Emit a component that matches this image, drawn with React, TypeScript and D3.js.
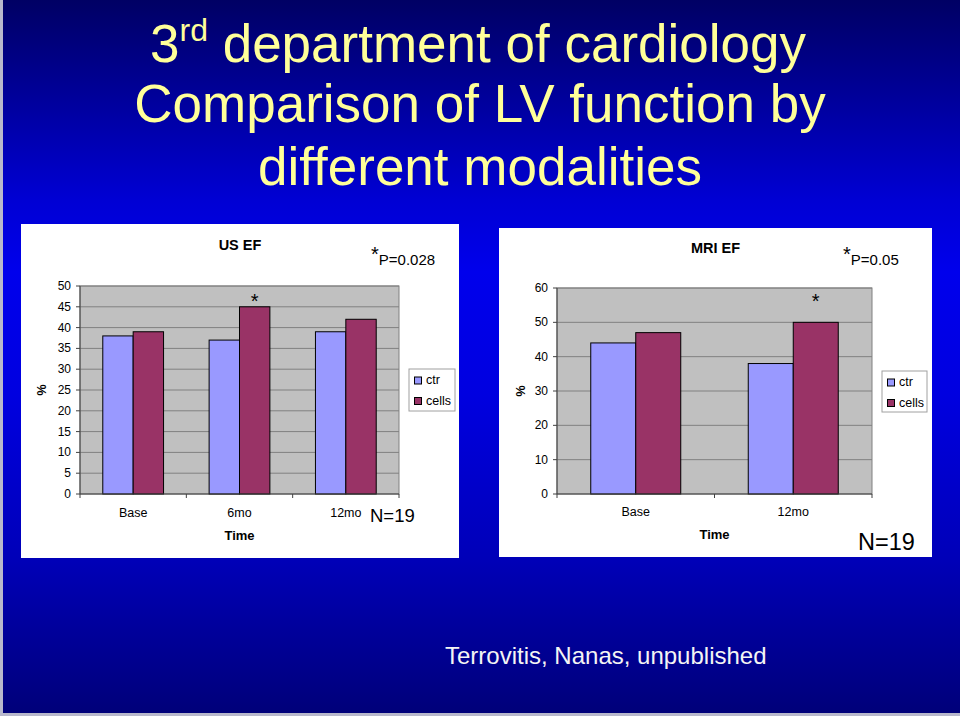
import React from "react";
import * as d3 from "d3";

const seriesNames = ["ctr", "cells"];
const usCategories = ["Base", "6mo", "12mo"];
const usCtr = [38, 37, 39];
const usCells = [39, 45, 42];
const usTicks = [0, 5, 10, 15, 20, 25, 30, 35, 40, 45, 50];
const usStarred = ["6mo"];
const mriCategories = ["Base", "12mo"];
const mriCtr = [44, 38];
const mriCells = [47, 50];
const mriTicks = [0, 10, 20, 30, 40, 50, 60];
const mriStarred = ["12mo"];

const FONT = "'Liberation Sans', Arial, sans-serif";
const colors = ["#9999ff", "#993366"];

type PanelProps = {
  box: [number, number, number, number];
  plot: [number, number, number, number];
  title: string;
  titleY: number;
  pText: string;
  pX: number;
  categories: string[];
  ctr: number[];
  cells: number[];
  ticks: number[];
  starred: string[];
  legend: [number, number, number, number];
  catY: number;
  timeY: number;
  nX: number;
  nY: number;
  nSize: number;
  pctX: number;
};

function Panel(p: PanelProps) {
  const [bx, by, bw, bh] = p.box;
  const [px0, py0, px1, py1] = p.plot;
  const maxV = p.ticks[p.ticks.length - 1];
  const y = d3.scaleLinear().domain([0, maxV]).range([py1, py0]);
  const x = d3.scaleBand<string>().domain(p.categories).range([px0, px1]).padding(0);
  const xs = d3
    .scaleBand<string>()
    .domain(seriesNames)
    .range([0, x.bandwidth()])
    .paddingInner(0)
    .paddingOuter(0.75);
  const values = [p.ctr, p.cells];
  const [lx, ly, lw, lh] = p.legend;
  const cx = (px0 + px1) / 2;
  const cy = (py0 + py1) / 2;
  const bounds = [px0, ...p.categories.map((c) => (x(c) as number) + x.bandwidth())];
  return (
    <g>
      <rect x={bx} y={by} width={bw} height={bh} fill="#ffffff" />
      <text x={bx + bw / 2} y={p.titleY} textAnchor="middle" fontFamily={FONT} fontWeight="bold" fontSize={14.5} fill="#000">
        {p.title}
      </text>
      <text x={p.pX} y={265} fontFamily={FONT} fontSize={15} fill="#000">
        <tspan fontSize={20} dy={-4}>*</tspan>
        <tspan dy={4}>{p.pText}</tspan>
      </text>
      <rect x={px0} y={py0} width={px1 - px0} height={py1 - py0} fill="#c0c0c0" stroke="#808080" strokeWidth={1} />
      {p.ticks.slice(1).map((t) => (
        <line key={"g" + t} x1={px0} x2={px1} y1={y(t)} y2={y(t)} stroke="#808080" strokeWidth={1} />
      ))}
      {p.categories.map((c, ci) =>
        seriesNames.map((s, si) => {
          const v = values[si][ci];
          const x0 = (x(c) as number) + (xs(s) as number);
          return (
            <rect
              key={c + s}
              x={x0}
              y={y(v)}
              width={xs.bandwidth()}
              height={py1 - y(v)}
              fill={colors[si]}
              stroke="#000"
              strokeWidth={1}
            />
          );
        })
      )}
      {p.starred.map((c) => {
        const xc = (x(c) as number) + (xs("cells") as number) + xs.bandwidth() / 2;
        return (
          <text key={"t" + c} x={xc} y={308} textAnchor="middle" fontFamily={FONT} fontSize={20} fill="#000">
            *
          </text>
        );
      })}
      <line x1={px0} x2={px0} y1={py0} y2={py1} stroke="#404040" strokeWidth={1} />
      <line x1={px0} x2={px1} y1={py1} y2={py1} stroke="#404040" strokeWidth={1} />
      {p.ticks.map((t) => (
        <g key={"t" + t}>
          <line x1={px0 - 4} x2={px0} y1={y(t)} y2={y(t)} stroke="#404040" />
          <text x={px0 - 9} y={y(t) + 4} textAnchor="end" fontFamily={FONT} fontSize={12} fill="#000">
            {t}
          </text>
        </g>
      ))}
      {bounds.map((b, i) => (
        <line key={"b" + i} x1={b} x2={b} y1={py1} y2={py1 + 4} stroke="#404040" />
      ))}
      {p.categories.map((c) => (
        <text key={"c" + c} x={(x(c) as number) + x.bandwidth() / 2} y={p.catY} textAnchor="middle" fontFamily={FONT} fontSize={12.5} fill="#000">
          {c}
        </text>
      ))}
      <text x={cx} y={p.timeY} textAnchor="middle" fontFamily={FONT} fontWeight="bold" fontSize={13} fill="#000">
        Time
      </text>
      <text
        transform={`translate(${p.pctX},${cy}) rotate(-90)`}
        textAnchor="middle"
        fontFamily={FONT}
        fontWeight="bold"
        fontSize={12.5}
        fill="#000"
      >
        %
      </text>
      <rect x={lx} y={ly} width={lw} height={lh} fill="#ffffff" stroke="#a0a0a0" />
      {seriesNames.map((s, i) => (
        <g key={"l" + s}>
          <rect x={lx + 5.5} y={ly + 8 + i * 20.5} width={7} height={7} fill={colors[i]} stroke="#000" />
          <text x={lx + 17} y={ly + 15 + i * 20.5} fontFamily={FONT} fontSize={12.5} fill="#000">
            {s}
          </text>
        </g>
      ))}
      <text x={p.nX} y={p.nY} fontFamily={FONT} fontSize={p.nSize} fill="#000">
        N=19
      </text>
    </g>
  );
}

export default function App() {
  const noLig = { fontFeatureSettings: '"liga" 0, "clig" 0', fontVariantLigatures: "none" } as React.CSSProperties;
  return (
    <svg width={960} height={716} style={{ position: "absolute", left: 0, top: 0, display: "block" }}>
      <defs>
        <linearGradient id="bg" x1="0" y1="0" x2="0" y2="1">
          <stop offset="0" stopColor="#000064" />
          <stop offset="0.28" stopColor="#0000d4" />
          <stop offset="0.38" stopColor="#0000ec" />
          <stop offset="0.55" stopColor="#0000e0" />
          <stop offset="0.78" stopColor="#0000b8" />
          <stop offset="1" stopColor="#000078" />
        </linearGradient>
      </defs>
      <rect x={0} y={0} width={960} height={716} fill="url(#bg)" />
      <rect x={0} y={0} width={3} height={716} fill="#b8b8cc" />
      <rect x={0} y={713} width={960} height={3} fill="#b8b8cc" />
      <g fontFamily={FONT} fill="#ffff99" fontSize={53} textAnchor="middle">
        <text x={478} y={62} style={noLig}>
          3<tspan fontSize={32} dy={-21}>rd</tspan>
          <tspan dy={21}> department of cardiology</tspan>
        </text>
        <text x={480} y={122} style={noLig}>Comparison of LV function by</text>
        <text x={480} y={185} style={noLig} letterSpacing={0.01}>different modalities</text>
      </g>
      <Panel
        box={[21, 224, 438, 334]}
        plot={[80, 286, 399, 494]}
        title="US EF"
        titleY={250}
        pText="P=0.028"
        pX={371}
        categories={usCategories}
        ctr={usCtr}
        cells={usCells}
        ticks={usTicks}
        starred={usStarred}
        legend={[409, 369, 46, 42]}
        catY={517}
        timeY={540}
        nX={370}
        nY={522}
        nSize={18.5}
        pctX={46}
      />
      <Panel
        box={[499, 228, 433, 329]}
        plot={[557, 288, 872, 494]}
        title="MRI EF"
        titleY={253}
        pText="P=0.05"
        pX={843}
        categories={mriCategories}
        ctr={mriCtr}
        cells={mriCells}
        ticks={mriTicks}
        starred={mriStarred}
        legend={[882, 371, 45, 41]}
        catY={516}
        timeY={539}
        nX={858}
        nY={550}
        nSize={23.5}
        pctX={525}
      />
      <text x={445} y={664} fontFamily={FONT} fontSize={24} fill="#f4f4f4">
        Terrovitis, Nanas, unpublished
      </text>
    </svg>
  );
}
